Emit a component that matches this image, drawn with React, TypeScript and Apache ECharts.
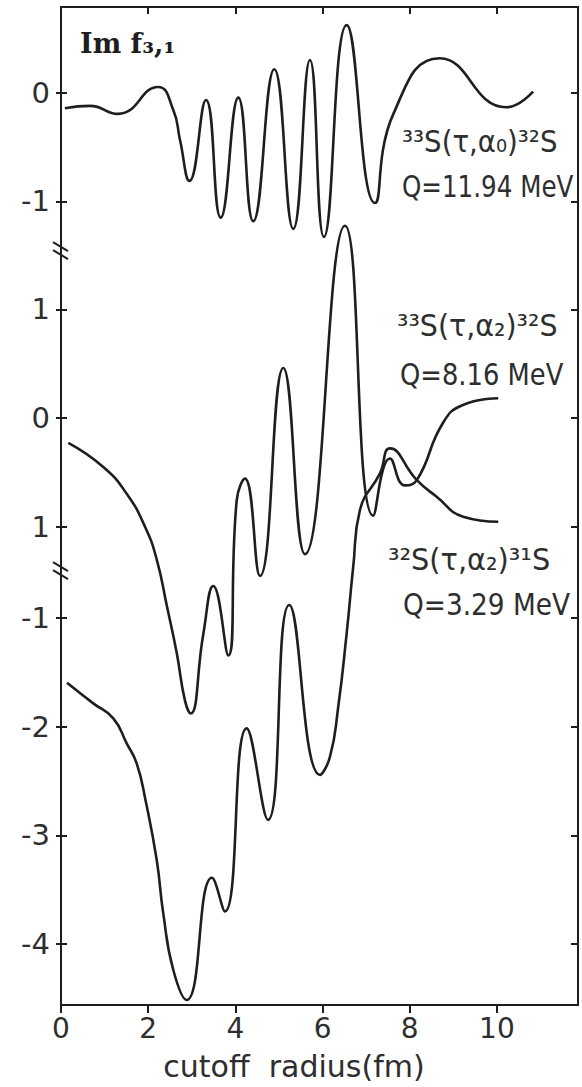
import React, { useEffect, useRef } from "react";
import * as echarts from "echarts";

// Top curve: 33S(t,a0)32S, Q=11.94 MeV (values in its own panel units)
const TOP_X = [0.09, 0.665, 1.307, 2.225, 2.576, 2.729, 2.947, 3.326, 3.663, 4.067, 4.41, 4.892, 5.328, 5.711, 6.032, 6.553, 7.2, 7.62, 8.69, 10.22, 10.83];
const TOP_Y = [-0.143, -0.122, -0.195, 0.052, -0.159, -0.434, -0.812, -0.067, -1.15, -0.046, -1.183, 0.215, -1.253, 0.3, -1.327, 0.621, -1.015, -0.2, 0.316, -0.134, 0.009];

// Middle curve: 33S(t,a2)32S, Q=8.16 MeV
const MID_X = [0.167, 0.97, 1.507, 1.927, 2.195, 2.424, 2.654, 2.844, 2.975, 3.262, 3.493, 3.837, 4.03, 4.22, 4.564, 5.099, 5.596, 6.514, 7.163, 7.546, 7.89, 8.158, 8.761, 9.22, 10.03];
const MID_Y = [-0.229, -0.451, -0.697, -1.0, -1.3, -1.72, -2.16, -2.6, -2.719, -1.994, -1.546, -2.185, -0.759, -0.558, -1.454, 0.46, -1.253, 1.769, -0.898, -0.373, -0.62, -0.574, -0.046, 0.12, 0.182];

// Bottom curve: 32S(t,a2)31S, Q=3.29 MeV
const BOT_X = [0.138, 0.74, 1.2, 1.507, 1.736, 1.938, 2.195, 2.346, 2.576, 2.883, 3.463, 3.76, 4.259, 4.748, 5.236, 5.94, 6.17, 6.36, 6.553, 6.704, 6.858, 7.317, 7.546, 8.158, 8.617, 9.227, 10.03];
const BOT_Y = [-1.595, -1.785, -1.923, -2.153, -2.337, -2.674, -3.224, -3.717, -4.238, -4.514, -3.39, -3.7, -2.015, -2.857, -0.88, -2.443, -2.276, -1.816, -1.141, -0.528, -0.006, 0.33, 0.561, 0.27, 0.116, -0.068, -0.114];

// Panel zero offsets on the shared (bottom-panel) scale
const TOP_OFFSET = 3.833;
const MID_OFFSET = 0.84;

const X_MIN = 0;
const X_MAX = 11.86;
const Y_MIN = -4.56;
const Y_MAX = 4.621;

const X_TICKS = [0, 2, 4, 6, 8, 10];
const TOP_TICKS = [0, -1];
const TOP_TICK_LABELS = ["0", "-1"];
const MID_TICKS = [1, 0, -1];
const MID_TICK_LABELS = ["1", "0", "1"];
const BOT_TICKS = [-1, -2, -3, -4];
const BOT_TICK_LABELS = ["-1", "-2", "-3", "-4"];
const BREAKS = [2.376, -0.568];

const Y_TICK_VALUES = [
  ...TOP_TICKS.map((v) => v + TOP_OFFSET),
  ...MID_TICKS.map((v) => v + MID_OFFSET),
  ...BOT_TICKS,
];
const Y_TICK_LABELS = [...TOP_TICK_LABELS, ...MID_TICK_LABELS, ...BOT_TICK_LABELS];

const INK = "#1e1e1e";
const TXT = "#2e2e2e";

function pairs(xs: number[], ys: number[], off: number) {
  return xs.map((x, i) => [x, ys[i] + off]);
}

function yLabel(v: number) {
  let best = -1;
  let d = 1e9;
  Y_TICK_VALUES.forEach((t, i) => {
    const dd = Math.abs(t - v);
    if (dd < d) {
      d = dd;
      best = i;
    }
  });
  return d < 1e-3 ? Y_TICK_LABELS[best] : "";
}

const lineStyle = { color: INK, width: 2.6 };
const axisLineStyle = { color: INK, width: 2 };

export default function App() {
  const ref = useRef<HTMLDivElement>(null);
  useEffect(() => {
    const chart = echarts.init(ref.current!, null, { renderer: "svg" });
    const option: any = {
      animation: false,
      backgroundColor: "#ffffff",
      textStyle: { fontFamily: "DejaVu Sans" },
      grid: { left: 61, right: 4, top: 7, bottom: 82, containLabel: false },
      xAxis: [
        {
          type: "value",
          min: X_MIN,
          max: X_MAX,
          position: "bottom",
          axisLine: { show: true, onZero: false, lineStyle: axisLineStyle },
          axisTick: { show: true, customValues: X_TICKS, length: 8, lineStyle: axisLineStyle },
          axisLabel: { customValues: X_TICKS, fontSize: 28, color: TXT, margin: 9, fontFamily: "DejaVu Sans" },
          splitLine: { show: false },
        },
        {
          type: "value",
          min: X_MIN,
          max: X_MAX,
          position: "top",
          axisLine: { show: true, onZero: false, lineStyle: axisLineStyle },
          axisTick: { show: true, inside: true, customValues: X_TICKS, length: 7, lineStyle: axisLineStyle },
          axisLabel: { show: false },
          splitLine: { show: false },
        },
      ],
      yAxis: [
        {
          type: "value",
          min: Y_MIN,
          max: Y_MAX,
          position: "left",
          axisLine: { show: true, onZero: false, lineStyle: axisLineStyle },
          axisTick: { show: true, customValues: Y_TICK_VALUES, length: 5, lineStyle: axisLineStyle },
          axisLabel: {
            customValues: Y_TICK_VALUES,
            formatter: (v: number) => yLabel(v),
            fontSize: 29,
            color: TXT,
            margin: 11,
            fontFamily: "DejaVu Sans",
          },
          splitLine: { show: false },
        },
        {
          type: "value",
          min: Y_MIN,
          max: Y_MAX,
          position: "left",
          axisLine: { show: false, onZero: false },
          axisTick: { show: true, inside: true, customValues: Y_TICK_VALUES, length: 6, lineStyle: axisLineStyle },
          axisLabel: { show: false },
          splitLine: { show: false },
        },
        {
          type: "value",
          min: Y_MIN,
          max: Y_MAX,
          position: "right",
          axisLine: { show: true, onZero: false, lineStyle: axisLineStyle },
          axisTick: { show: true, inside: true, customValues: Y_TICK_VALUES, length: 7, lineStyle: axisLineStyle },
          axisLabel: { show: false },
          splitLine: { show: false },
        },
      ],
      series: [
        { type: "line", name: "33S(t,a0)32S", data: pairs(TOP_X, TOP_Y, TOP_OFFSET), smooth: 0.5, showSymbol: false, lineStyle, silent: true },
        { type: "line", name: "33S(t,a2)32S", data: pairs(MID_X, MID_Y, MID_OFFSET), smooth: 0.5, showSymbol: false, lineStyle, silent: true },
        { type: "line", name: "32S(t,a2)31S", data: pairs(BOT_X, BOT_Y, 0), smooth: 0.5, showSymbol: false, lineStyle, silent: true },
      ],
    };
    chart.setOption(option);

    const x0 = chart.convertToPixel({ xAxisIndex: 0 }, 0) as number;
    const breakEls: any[] = [];
    BREAKS.forEach((b) => {
      const y = chart.convertToPixel({ yAxisIndex: 0 }, b) as number;
      [-4, 4].forEach((d) => {
        breakEls.push({
          type: "line",
          shape: { x1: x0 - 8, y1: y + d - 5, x2: x0 + 7, y2: y + d + 4 },
          style: { stroke: INK, lineWidth: 2 },
          silent: true,
        });
      });
    });

    const label = (text: string, x: number, y: number, sx: number) => ({
      type: "text",
      x,
      y,
      scaleX: sx,
      silent: true,
      style: { text, fontSize: 30, fontFamily: "DejaVu Sans", fill: TXT, align: "left", verticalAlign: "middle" },
    });

    const texts: any[] = [
      {
        type: "text",
        x: 80,
        y: 43,
        silent: true,
        style: { text: "Im f₃,₁", fontSize: 27, fontWeight: "bold", fontFamily: "DejaVu Serif", fill: INK, align: "left", verticalAlign: "middle" },
      },
      label("³³S(τ,α₀)³²S", 402, 142, 0.92),
      label("Q=11.94 MeV", 402, 187, 0.82),
      label("³³S(τ,α₂)³²S", 397, 326, 0.95),
      label("Q=8.16 MeV", 400, 375, 0.86),
      label("³²S(τ,α₂)³¹S", 388, 560, 0.96),
      label("Q=3.29 MeV", 403, 605, 0.88),
      {
        type: "text",
        x: 294,
        y: 1066,
        silent: true,
        style: { text: "cutoff  radius(fm)", fontSize: 30, fontFamily: "DejaVu Sans", fill: TXT, align: "center", verticalAlign: "middle" },
      },
    ];

    chart.setOption({ graphic: [...texts, ...breakEls] });
    return () => chart.dispose();
  }, []);
  return (
    <div
      ref={ref}
      style={{ position: "fixed", left: 0, top: 0, width: 582, height: 1087, background: "#fff" }}
    />
  );
}
